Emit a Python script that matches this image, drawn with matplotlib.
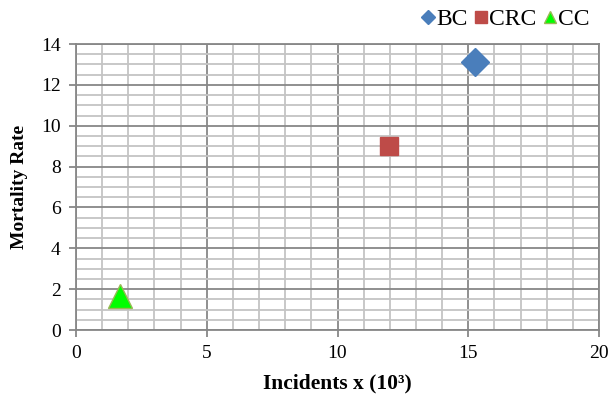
import matplotlib
matplotlib.use('Agg')
from matplotlib import pyplot as plt
from matplotlib.ticker import MultipleLocator

# cancer type: (incidents in thousands, mortality rate)
labels = ['BC', 'CRC', 'CC']
incidents = [15.25, 11.95, 1.7]
mortality = [13.1, 9.0, 1.65]

markers = ['D', 's', '^']
faces = ['#4a7ebb', '#be4b48', '#00ff00']
edges = ['#4a7ebb', '#be4b48', '#98b954']
sizes = [14, 13, 17]
legend_sizes = [7.5, 9, 9]

plt.rcParams['font.family'] = ['Liberation Serif', 'DejaVu Serif']

fig = plt.figure(figsize=(6.11, 4.03), dpi=100)
ax = fig.add_axes([0.1244, 0.1811, 0.856, 0.7097])

for lab, xv, yv, m, fc, ec, s in zip(labels, incidents, mortality, markers, faces, edges, sizes):
    ax.plot([xv], [yv], linestyle='none', marker=m, markersize=s,
            markerfacecolor=fc, markeredgecolor=ec, markeredgewidth=1,
            label=lab, zorder=5, clip_on=False)

ax.set_xlim(0, 20)
ax.set_ylim(0, 14)
ax.xaxis.set_major_locator(MultipleLocator(5))
ax.xaxis.set_minor_locator(MultipleLocator(1))
ax.yaxis.set_major_locator(MultipleLocator(2))
ax.yaxis.set_minor_locator(MultipleLocator(0.5))

ax.grid(which='minor', color='#c4c4c4', linewidth=1.3)
ax.grid(which='major', color='#878787', linewidth=1.3)
ax.set_axisbelow(True)

for sp in ax.spines.values():
    sp.set_color('#878787')
    sp.set_linewidth(1.3)

ax.tick_params(which='major', direction='out', length=5, width=1.3, color='#878787',
               labelsize=14, pad=6)
ax.tick_params(which='minor', length=0)

ax.set_xlabel('Incidents x (10³)', fontsize=15.5, fontweight='bold', labelpad=8)
ax.set_ylabel('Mortality Rate', fontsize=14, fontweight='bold', labelpad=9)

leg = ax.legend(loc='lower right', bbox_to_anchor=(0.995, 1.025), ncol=3, frameon=False,
                fontsize=17, handletextpad=0.1, columnspacing=0.3,
                borderaxespad=0.1, handlelength=0.5, borderpad=0.2)
for h, ms in zip(leg.legend_handles, legend_sizes):
    h.set_markersize(ms)

fig.savefig('out.png', dpi=100)
